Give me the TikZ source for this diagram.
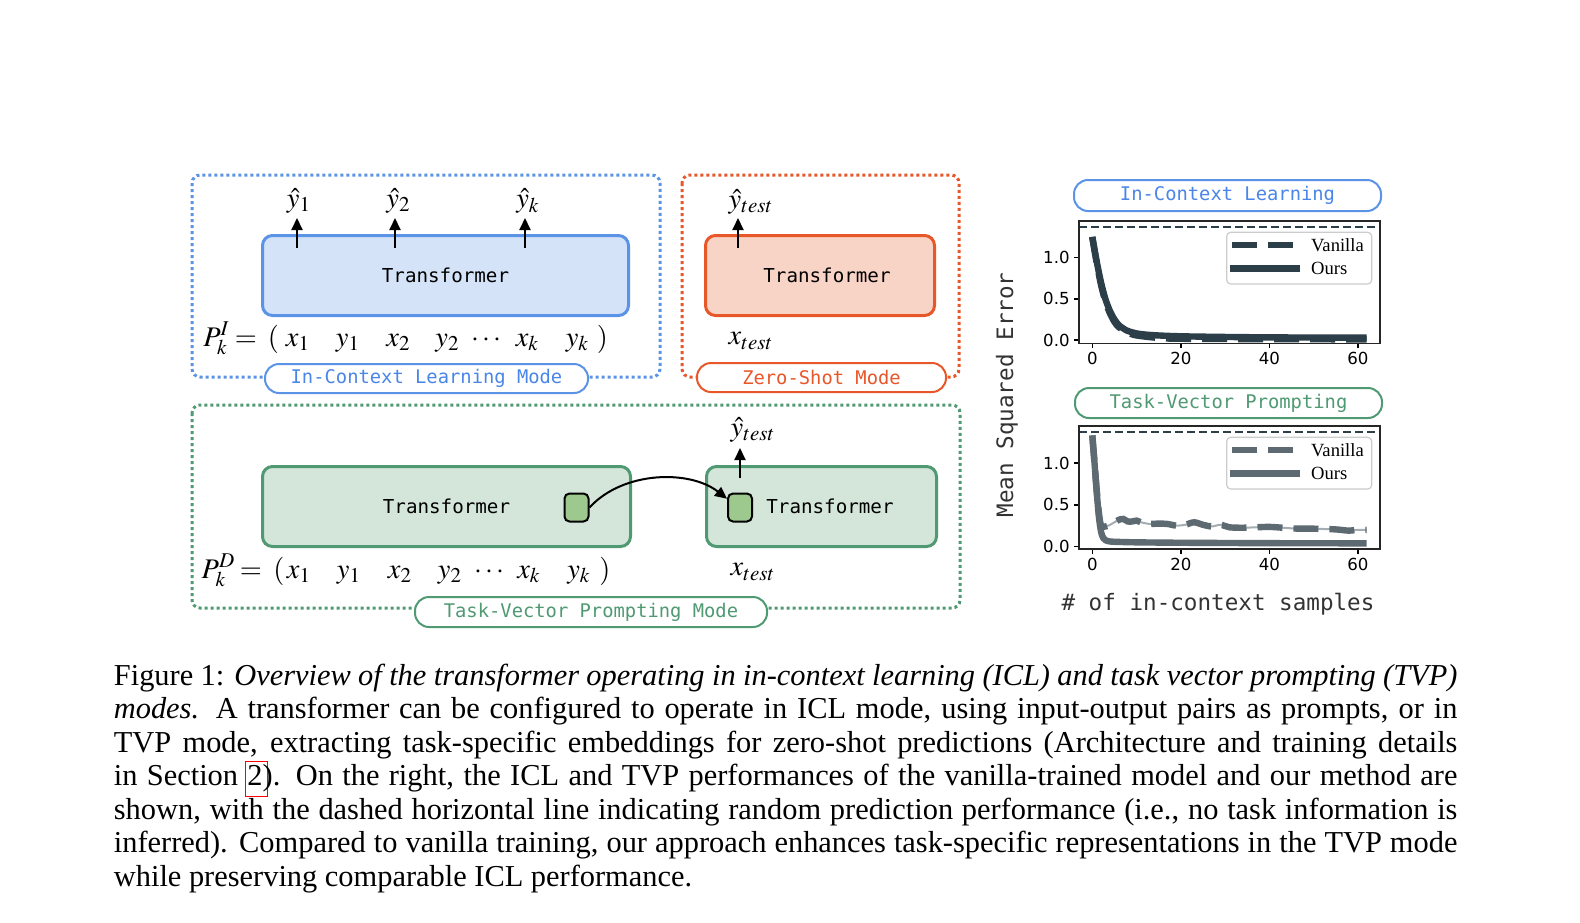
\documentclass[tikz,border=0pt]{standalone}
\usepackage{mathptmx}
\usepackage{fontspec}
\setmainfont{Liberation Serif}
\newfontfamily\monof{DejaVu Sans Mono}
\newfontfamily\sansf{DejaVu Sans}
\newfontfamily\legf{Liberation Serif}
\usetikzlibrary{arrows.meta}
\definecolor{bblue}{HTML}{5B93E6}
\definecolor{bbluefill}{HTML}{D5E3F8}
\definecolor{btext}{HTML}{4A86E8}
\definecolor{oorg}{HTML}{E8572A}
\definecolor{oorgfill}{HTML}{F8D4C7}
\definecolor{ggrn}{HTML}{4F9A72}
\definecolor{ggrnfill}{HTML}{D4E6DA}
\definecolor{sqfill}{HTML}{9DC98E}
\definecolor{iclc}{HTML}{2C3E48}
\definecolor{tvpc}{HTML}{5E6A72}
\definecolor{tvplight}{HTML}{A4ADB2}
\definecolor{axlab}{HTML}{333333}
\definecolor{legframe}{HTML}{CCCCCC}
\newcommand\capf{\fontsize{15.2}{16.75}\selectfont}
\newcommand\lnkbox[1]{\rlap{\hspace{-1.2pt}\textcolor{red}{\setlength\fboxsep{0pt}\setlength\fboxrule{0.5pt}\fbox{\rule[-5.3pt]{0pt}{17pt}\hspace{10.5pt}}}}#1}
\tikzset{
  tf/.style={font=\monof\fontsize{9.6}{11}\selectfont, text=black},
  mth/.style={font=\fontsize{14.2}{16}\selectfont, inner sep=0pt, anchor=base},
  tbox/.style={draw, line width=1.5pt, rounded corners=5pt, minimum height=40pt, inner sep=0pt, tf},
  arr/.style={line width=1pt, -{Triangle[length=6pt,width=5.5pt]}},
  pill/.style={draw, fill=white, line width=1pt, rounded corners=7pt, inner sep=0pt, minimum height=14.5pt, font=\monof\fontsize{9.4}{11}\selectfont},
  dotframe/.style={line width=1.5pt, dash pattern=on 1.5pt off 1.5pt, rounded corners=4pt},
  sqbox/.style={draw=black, fill=sqfill, line width=1pt, rounded corners=2.5pt, minimum width=12pt, minimum height=14pt, inner sep=0pt},
  ticklab/.style={font=\sansf\fontsize{8.3}{10}\selectfont, inner sep=0pt},
  legtext/.style={font=\legf\fontsize{9.3}{11}\selectfont, inner sep=0pt, anchor=west},
  axlabel/.style={font=\monof\fontsize{11.3}{13}\selectfont, text=axlab, inner sep=0pt},
  capline/.style={anchor=base west, inner sep=0pt, font=\capf},
}
\begin{document}
\begin{tikzpicture}[x=0.5pt,y=-0.5pt]
\fill[white] (0,0) rectangle (1580,922);
\useasboundingbox (0,0) rectangle (1580,922);

% ---------- ICL mode ----------
\draw[dotframe, bblue] (192,175) rectangle (660,377);
\node[tbox, draw=bblue, fill=bbluefill, minimum width=183pt] (ticl) at (445.5,275.5) {Transformer};
\coordinate (ia1) at (297,248); \coordinate (it1) at (297,218);
\coordinate (ia2) at (395,248); \coordinate (it2) at (395,218);
\coordinate (ia3) at (525,248); \coordinate (it3) at (525,218);
\draw[arr] (ia1) -- (it1);
\draw[arr] (ia2) -- (it2);
\draw[arr] (ia3) -- (it3);
\node[mth, anchor=center] (yh1) at (299,201) {$\hat{y}_1$};
\node[mth, anchor=center] (yh2) at (398.5,201) {$\hat{y}_2$};
\node[mth, anchor=center] (yhk) at (528,201) {$\hat{y}_k$};
\node[mth] (pI) at (216.5,346) {$P_k^I$};
\node[mth] (eqI) at (246,346) {$=$};
\node[mth] (lpI) at (273.5,346) {$($};
\node[mth] (ix1) at (298,346) {$x_1$};
\node[mth] (iy1) at (348,346) {$y_1$};
\node[mth] (ix2) at (398.5,346) {$x_2$};
\node[mth] (iy2) at (447.5,346) {$y_2$};
\node[mth] (idots) at (486.5,346) {$\cdots$};
\node[mth] (ixk) at (527.5,346) {$x_k$};
\node[mth] (iyk) at (577.5,346) {$y_k$};
\node[mth] (rpI) at (602.5,346) {$)$};
\node[pill, draw=bblue, text=btext, minimum width=161.5pt] (picl) at (426.5,378.5) {In-Context Learning Mode};

% ---------- Zero-shot mode ----------
\draw[dotframe, oorg] (682,175) rectangle (959,377);
\node[tbox, draw=oorg, fill=oorgfill, minimum width=114.5pt] (tzs) at (820,275.5) {\hspace*{7pt}Transformer};
\coordinate (za) at (738,248); \coordinate (zt) at (738,218);
\draw[arr] (za) -- (zt);
\node[mth, anchor=center] (zyh) at (751,202) {$\hat{y}_{test}$};
\node[mth, anchor=center] (zx) at (751,341) {$x_{test}$};
\node[pill, draw=oorg, text=oorg, minimum width=124.5pt] (pzs) at (821.5,377.5) {Zero-Shot Mode};

% ---------- TVP mode ----------
\draw[dotframe, ggrn] (192,405) rectangle (960,608);
\node[tbox, draw=ggrn, fill=ggrnfill, minimum width=184pt] (tv1) at (446.5,506.5) {Transformer};
\node[tbox, draw=ggrn, fill=ggrnfill, minimum width=115pt] (tv2) at (821.5,506.5) {\hspace*{8.5pt}Transformer};
\node[sqbox] (sq1) at (576.5,507.5) {};
\node[sqbox] (sq2) at (740,507.5) {};
\draw[arr] (sq1.east) .. controls +(34,-37) and +(-37,-29) .. (sq2.146);
\coordinate (ta) at (740,478); \coordinate (tt) at (740,448);
\draw[arr] (ta) -- (tt);
\node[mth, anchor=center] (tyh) at (753,430) {$\hat{y}_{test}$};
\node[mth, anchor=center] (tx) at (753,572) {$x_{test}$};
\node[mth] (pD) at (218.5,578) {$P_k^D$};
\node[mth] (eqD) at (251,578) {$=$};
\node[mth] (lpD) at (279,578) {$($};
\node[mth] (dx1) at (299,578) {$x_1$};
\node[mth] (dy1) at (349,578) {$y_1$};
\node[mth] (dx2) at (400,578) {$x_2$};
\node[mth] (dy2) at (450,578) {$y_2$};
\node[mth] (ddots) at (489,578) {$\cdots$};
\node[mth] (dxk) at (529,578) {$x_k$};
\node[mth] (dyk) at (579,578) {$y_k$};
\node[mth] (rpD) at (605,578) {$)$};
\node[pill, draw=ggrn, text=ggrn, minimum width=176pt, minimum height=15pt] (ptv) at (591,612) {Task-Vector Prompting Mode};

% ---------- Plots ----------
\node[pill, draw=bblue, text=btext, minimum width=153.5pt, minimum height=15.5pt] (plicl) at (1227.5,195.5) {In-Context Learning};
\node[pill, draw=ggrn, text=ggrn, minimum width=153.5pt, minimum height=15pt] (pltvp) at (1228.5,403) {Task-Vector Prompting};
\node[axlabel, rotate=90] (ylab) at (1007,395) {Mean Squared Error};
\node[axlabel] (xlab) at (1218,604) {\# of in-context samples};

% ICL plot
\begin{scope}[shift={(1092.3,340)}, x=2.2125pt, y=41.3pt]
  \draw[iclc, line width=1pt, dash pattern=on 4pt off 2pt] (-3.0,1.37) -- (65.0,1.37);
  \draw[iclc, line width=3.2pt, dash pattern=on 12.5pt off 5.5pt] plot[smooth] coordinates {(0,1.24) (1,0.93) (2,0.66) (3,0.46) (4,0.32) (5,0.22) (6,0.155) (8,0.09) (10,0.055) (15,0.025) (20,0.015) (40,0.01) (62,0.008)};
  \draw[iclc, line width=3.2pt] plot[smooth] coordinates {(0,1.25) (1,0.95) (2,0.69) (3,0.49) (4,0.35) (5,0.25) (6,0.18) (7,0.14) (8,0.11) (10,0.08) (12,0.066) (15,0.055) (20,0.045) (30,0.037) (40,0.032) (50,0.03) (62,0.028)};
  \foreach \v/\t in {0/0.0,0.5/0.5,1/1.0} {
    \draw[line width=0.8pt] (-3.0,\v) -- ++(-2.5pt,0);
    \node[ticklab, anchor=east] at ([xshift=-4.5pt]-3.0,\v) {\t};
  }
  \foreach \u in {0,20,40,60} {
    \draw[line width=0.8pt] (\u,-0.04) -- ++(0,-2.5pt);
    \node[ticklab, anchor=north] at ([yshift=-4.3pt]\u,-0.04) {\u};
  }
\end{scope}
\draw[line width=0.8pt, black!85] (1079,221) rectangle (1380,343.5);
\draw[legframe, fill=white, fill opacity=0.8, line width=0.6pt, rounded corners=2pt] (1226.7,232.3) rectangle (1371.7,284);
\coordinate (lv1a) at (1232,245); \coordinate (lv1b) at (1293,245);
\coordinate (lo1a) at (1230,268.3); \coordinate (lo1b) at (1300,268.3);
\draw[iclc, line width=3.3pt, dash pattern=on 12.5pt off 5.5pt] (lv1a) -- (lv1b);
\draw[iclc, line width=3.3pt] (lo1a) -- (lo1b);
\node[legtext] (lgv1) at (1310.7,245) {Vanilla};
\node[legtext] (lgo1) at (1310.7,268.3) {Ours};

% TVP plot
\begin{scope}[shift={(1092.3,546.5)}, x=2.2125pt, y=41.75pt]
  \draw[iclc, line width=1pt, dash pattern=on 4pt off 2pt] (-3.0,1.37) -- (65.0,1.37);
  \draw[tvplight, line width=1pt] plot[smooth] coordinates {(0,1.33) (0.5,1.0) (1,0.67) (1.5,0.4) (2,0.25) (3,0.24) (4,0.26) (5,0.29) (6,0.32) (7,0.33) (8,0.3) (9,0.3) (10,0.31) (11,0.29) (13,0.27) (15,0.275) (17,0.27) (19,0.25) (21,0.26) (23,0.29) (25,0.26) (27,0.24) (29,0.26) (31,0.23) (34,0.225) (37,0.23) (40,0.235) (43,0.225) (46,0.215) (49,0.215) (52,0.21) (55,0.205) (58,0.19) (60,0.2) (62,0.2)};
  \draw[tvpc, line width=3.2pt, dash pattern=on 12.5pt off 5.5pt] plot[smooth] coordinates {(0,1.33) (0.5,1.0) (1,0.67) (1.5,0.4) (2,0.25) (3,0.24) (4,0.26) (5,0.29) (6,0.32) (7,0.33) (8,0.3) (9,0.3) (10,0.31) (11,0.29) (13,0.27) (15,0.275) (17,0.27) (19,0.25) (21,0.26) (23,0.29) (25,0.26) (27,0.24) (29,0.26) (31,0.23) (34,0.225) (37,0.23) (40,0.235) (43,0.225) (46,0.215) (49,0.215) (52,0.21) (55,0.205) (58,0.19) (60,0.2) (62,0.2)};
  \draw[tvpc, line width=3.2pt] plot[smooth] coordinates {(0,1.33) (0.5,1.0) (1,0.65) (1.5,0.35) (2,0.17) (2.5,0.1) (3,0.075) (4,0.06) (6,0.055) (10,0.05) (20,0.045) (40,0.04) (62,0.038)};
  \foreach \v/\t in {0/0.0,0.5/0.5,1/1.0} {
    \draw[line width=0.8pt] (-3.0,\v) -- ++(-2.5pt,0);
    \node[ticklab, anchor=east] at ([xshift=-4.5pt]-3.0,\v) {\t};
  }
  \foreach \u in {0,20,40,60} {
    \draw[line width=0.8pt] (\u,-0.03) -- ++(0,-2.5pt);
    \node[ticklab, anchor=north] at ([yshift=-4.3pt]\u,-0.03) {\u};
  }
\end{scope}
\draw[line width=0.8pt, black!85] (1079,425.7) rectangle (1380,549);
\draw[legframe, fill=white, fill opacity=0.8, line width=0.6pt, rounded corners=2pt] (1226.7,437.3) rectangle (1371.7,489);
\coordinate (lv2a) at (1232,450); \coordinate (lv2b) at (1293,450);
\coordinate (lo2a) at (1230,473.3); \coordinate (lo2b) at (1300,473.3);
\draw[tvpc, line width=3.3pt, dash pattern=on 12.5pt off 5.5pt] (lv2a) -- (lv2b);
\draw[tvpc, line width=3.3pt] (lo2a) -- (lo2b);
\node[legtext] (lgv2) at (1310.7,450) {Vanilla};
\node[legtext] (lgo2) at (1310.7,473.3) {Ours};

% ---------- Caption ----------
\node[capline] (c1) at (113.5,685) {\makebox[671.75pt][s]{Figure 1: \textit{Overview of the transformer operating in in-context learning (ICL) and task vector prompting (TVP)}}};
\node[capline] (c2) at (113.5,718.5) {\makebox[671.75pt][s]{\textit{modes.} A transformer can be configured to operate in ICL mode, using input-output pairs as prompts, or in}};
\node[capline] (c3) at (113.5,752) {\makebox[671.75pt][s]{TVP mode, extracting task-specific embeddings for zero-shot predictions (Architecture and training details}};
\node[capline] (c4) at (113.5,785.5) {\makebox[671.75pt][s]{in Section \lnkbox{2}). On the right, the ICL and TVP performances of the vanilla-trained model and our method are}};
\node[capline] (c5) at (113.5,819) {\makebox[671.75pt][s]{shown, with the dashed horizontal line indicating random prediction performance (i.e., no task information is}};
\node[capline] (c6) at (113.5,852.5) {\makebox[671.75pt][s]{inferred). Compared to vanilla training, our approach enhances task-specific representations in the TVP mode}};
\node[capline] (c7) at (113.5,886) {while preserving comparable ICL performance.};
\end{tikzpicture}
\end{document}
